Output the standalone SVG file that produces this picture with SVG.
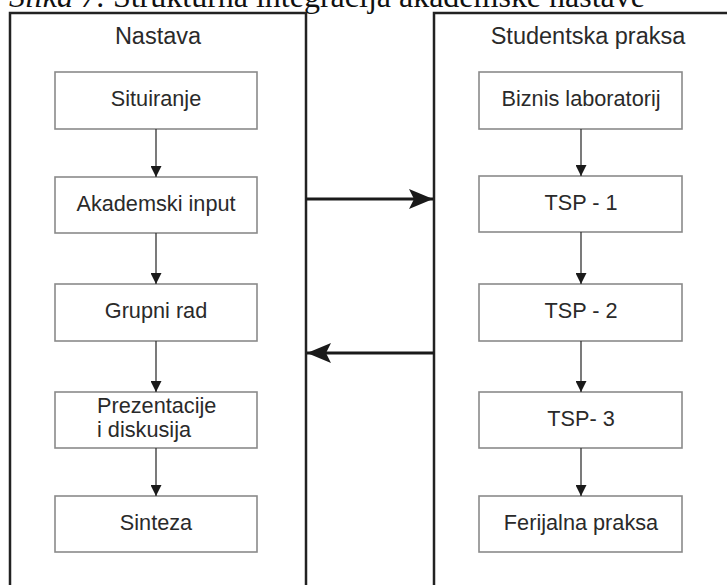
<svg xmlns="http://www.w3.org/2000/svg" width="727" height="585" viewBox="0 0 727 585">
<defs>
<style>
.outer{fill:none;stroke:#222;stroke-width:2.5}
.box{fill:#fff;stroke:#8a8a8a;stroke-width:1.6}
.lbl{font-family:"Liberation Sans",Arial,sans-serif;font-size:21.7px;fill:#2a2a2a;text-anchor:middle}
.ttl{font-family:"Liberation Sans",Arial,sans-serif;font-size:23.5px;fill:#2a2a2a;text-anchor:middle}
.cap{font-family:"Liberation Serif","Times New Roman",serif;font-size:32px;fill:#111}
.thin{stroke:#333;stroke-width:1.3;fill:none}
.thick{stroke:#1a1a1a;stroke-width:3;fill:none}
</style>
<marker id="ah" viewBox="0 0 10 10" refX="10" refY="5" markerWidth="11" markerHeight="11" markerUnits="userSpaceOnUse" orient="auto">
<path d="M0,0 L10,5 L0,10 Z" fill="#1a1a1a"/>
</marker>
<marker id="big" viewBox="0 0 24 20" refX="24" refY="10" markerWidth="24" markerHeight="20" markerUnits="userSpaceOnUse" orient="auto">
<path d="M0,0 L24,10 L0,20 L5,10 Z" fill="#1a1a1a"/>
</marker>
</defs>
<rect width="727" height="585" fill="#fff"/>
<text class="cap" x="9" y="7" textLength="636" lengthAdjust="spacingAndGlyphs"><tspan font-style="italic">Slika 7.</tspan> Strukturna integracija akademske nastave</text>

<g id="nastava">
<rect class="outer" x="10" y="13" width="296" height="600"/>
<text class="ttl" x="158" y="44">Nastava</text>
</g>
<g id="studentska-praksa">
<rect class="outer" x="434" y="13" width="320" height="600"/>
<text class="ttl" x="588" y="44">Studentska praksa</text>
</g>

<g id="situiranje"><rect class="box" x="55" y="72" width="202" height="57"/><text class="lbl" x="156" y="106">Situiranje</text></g>
<g id="akademski-input"><rect class="box" x="55" y="177" width="202" height="56"/><text class="lbl" x="156" y="211">Akademski input</text></g>
<g id="grupni-rad"><rect class="box" x="55" y="284" width="202" height="57"/><text class="lbl" x="156" y="318">Grupni rad</text></g>
<g id="prezentacije"><rect class="box" x="55" y="392" width="202" height="56"/><text class="lbl" x="97" y="413" style="text-anchor:start">Prezentacije</text><text class="lbl" x="97" y="437" style="text-anchor:start">i diskusija</text></g>
<g id="sinteza"><rect class="box" x="55" y="496" width="202" height="56"/><text class="lbl" x="156" y="530">Sinteza</text></g>

<g id="biznis"><rect class="box" x="479" y="72" width="203" height="57"/><text class="lbl" x="581" y="106">Biznis laboratorij</text></g>
<g id="tsp1"><rect class="box" x="479" y="176" width="203" height="56"/><text class="lbl" x="581" y="210">TSP - 1</text></g>
<g id="tsp2"><rect class="box" x="479" y="284" width="203" height="57"/><text class="lbl" x="581" y="318">TSP - 2</text></g>
<g id="tsp3"><rect class="box" x="479" y="392" width="203" height="56"/><text class="lbl" x="581" y="426">TSP- 3</text></g>
<g id="ferijalna"><rect class="box" x="479" y="496" width="203" height="56"/><text class="lbl" x="581" y="530">Ferijalna praksa</text></g>

<g id="connectors">
<line class="thin" x1="156" y1="129" x2="156" y2="177" marker-end="url(#ah)"/>
<line class="thin" x1="156" y1="233" x2="156" y2="284" marker-end="url(#ah)"/>
<line class="thin" x1="156" y1="341" x2="156" y2="392" marker-end="url(#ah)"/>
<line class="thin" x1="156" y1="448" x2="156" y2="496" marker-end="url(#ah)"/>
<line class="thin" x1="581" y1="129" x2="581" y2="176" marker-end="url(#ah)"/>
<line class="thin" x1="581" y1="232" x2="581" y2="284" marker-end="url(#ah)"/>
<line class="thin" x1="581" y1="341" x2="581" y2="392" marker-end="url(#ah)"/>
<line class="thin" x1="581" y1="448" x2="581" y2="496" marker-end="url(#ah)"/>
<line class="thick" x1="306" y1="199" x2="433" y2="199" marker-end="url(#big)"/>
<line class="thick" x1="434" y1="353" x2="307" y2="353" marker-end="url(#big)"/>
</g>
</svg>
